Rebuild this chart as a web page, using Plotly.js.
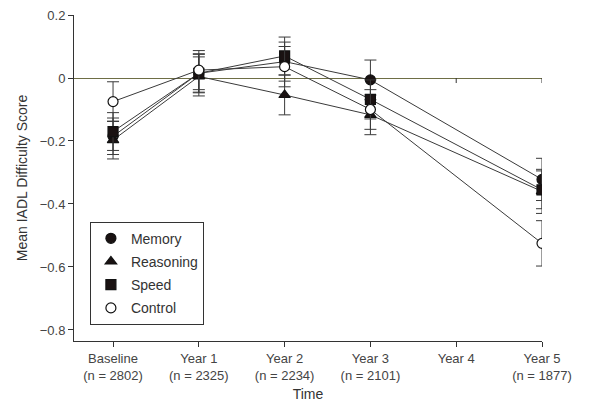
<!DOCTYPE html>
<html>
<head>
<meta charset="utf-8">
<script src="https://cdn.plot.ly/plotly-3.0.1.min.js"></script>
<style>html,body{margin:0;padding:0;background:#fff;}#chart{width:600px;height:411px;}</style>
</head>
<body>
<div id="chart"></div>
<script>
// Time points (0 = Baseline ... 5 = Year 5); Year 4 has no measurement
var timeVals = [0, 1, 2, 3, 5];
var tickVals = [0, 1, 2, 3, 4, 5];
var tickLabels = ["Baseline<br>(n = 2802)", "Year 1<br>(n = 2325)", "Year 2<br>(n = 2234)",
                  "Year 3<br>(n = 2101)", "Year 4<br> ", "Year 5<br>(n = 1877)"];

var memory    = [-0.185, 0.015, 0.052, -0.006, -0.322];
var memoryErr = [0.058, 0.062, 0.062, 0.063, 0.067];
var reasoning    = [-0.197, 0.005, -0.054, -0.117, -0.360];
var reasoningErr = [0.060, 0.062, 0.063, 0.063, 0.070];
var speed    = [-0.170, 0.015, 0.070, -0.068, -0.355];
var speedErr = [0.060, 0.060, 0.060, 0.062, 0.060];
var control    = [-0.075, 0.025, 0.036, -0.100, -0.525];
var controlErr = [0.063, 0.062, 0.064, 0.063, 0.072];

var names = ['Memory', 'Reasoning', 'Speed', 'Control'];
var symbols = ['circle', 'triangle-up', 'square', 'circle'];
var fills = ['#1a1212', '#1a1212', '#1a1212', '#ffffff'];
var series = [memory, reasoning, speed, control];
var errs = [memoryErr, reasoningErr, speedErr, controlErr];

var lineCol = '#3a3a3a';
var data = [];
series.forEach(function (y, i) {
  data.push({
    x: timeVals, y: y, name: names[i], type: 'scatter', mode: 'lines+markers',
    showlegend: false,
    line: {color: lineCol, width: 1},
    marker: {symbol: symbols[i], size: 10, color: fills[i], line: {color: '#111', width: 1.2}},
    error_y: {type: 'data', array: errs[i], visible: true, color: lineCol, thickness: 1, width: 6}
  });
});
// legend-only entries (markers without line)
names.forEach(function (n, i) {
  data.push({
    x: [null], y: [null], name: n, type: 'scatter', mode: 'markers', legendgroup: 'g' + i,
    marker: {symbol: symbols[i], size: 10, color: fills[i], line: {color: '#111', width: 1.2}}
  });
});

var zeroTicks = [4, 5];
var shapes = zeroTicks.map(function (v) {
  return {type: 'line', xref: 'x', yref: 'y', x0: v, x1: v, y0: 0, y1: -0.016,
          line: {color: '#333', width: 1}};
});

var font = {family: 'Liberation Sans, Arial, sans-serif', size: 12, color: '#444'};
var layout = {
  width: 600, height: 411,
  margin: {l: 74, r: 58, t: 15, b: 70},
  paper_bgcolor: '#fff', plot_bgcolor: '#fff',
  font: font,
  showlegend: true,
  legend: {x: 0.034, y: 0.366, xanchor: 'left', yanchor: 'top',
           bordercolor: '#333', borderwidth: 1, bgcolor: '#fff', tracegroupgap: 2,
           itemwidth: 30,
           font: {family: font.family, size: 14, color: '#333'}},
  xaxis: {
    range: [-0.455, 5], tickvals: tickVals, ticktext: tickLabels,
    showgrid: false, zeroline: false, showline: true, linecolor: '#333', linewidth: 1,
    ticks: 'outside', ticklen: 5, tickcolor: '#333',
    tickfont: {family: font.family, size: 13, color: '#444'},
    title: {text: 'Time', font: {family: font.family, size: 14, color: '#333'}, standoff: 7}
  },
  yaxis: {
    range: [-0.835, 0.2], tickvals: [0.2, 0, -0.2, -0.4, -0.6, -0.8],
    ticktext: ['0.2', '0', '\u22120.2', '\u22120.4', '\u22120.6', '\u22120.8'],
    showgrid: false, zeroline: true, zerolinecolor: '#6e6e45', zerolinewidth: 1,
    showline: true, linecolor: '#333', linewidth: 1,
    ticks: 'outside', ticklen: 5, tickcolor: '#333',
    tickfont: {family: font.family, size: 13, color: '#444'},
    title: {text: 'Mean IADL Difficulty Score', font: {family: font.family, size: 14, color: '#333'}, standoff: 8}
  },
  shapes: shapes
};
Plotly.newPlot('chart', data, layout, {displayModeBar: false, staticPlot: true});
</script>
</body>
</html>
